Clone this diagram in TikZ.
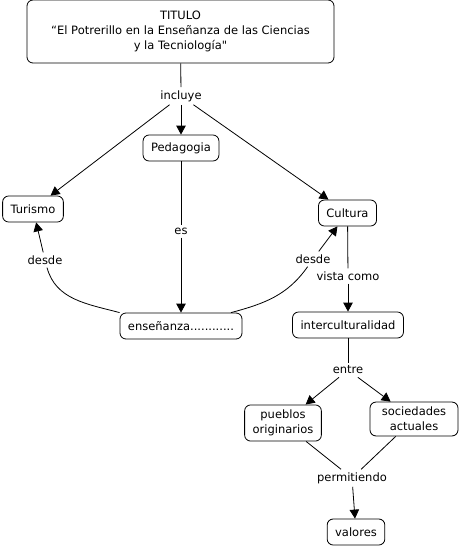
\documentclass[tikz,border=0pt]{standalone}
\usepackage{fontspec}
\setmainfont{DejaVu Sans}[Ligatures=TeXOff]
\usepackage{tikz}
\usetikzlibrary{arrows.meta,positioning,calc}

\begin{document}
\begin{tikzpicture}[
  x=1pt,y=-1pt,
  font=\fontsize{11.5}{15}\selectfont,
  concept/.style={draw,rounded corners=6pt,line width=0.8pt,align=center,fill=white,
    minimum height=26pt,inner xsep=8pt,inner ysep=5pt},
  linkword/.style={fill=white,inner sep=3pt},
  link/.style={line width=0.8pt},
  flow/.style={-{Triangle[length=9pt,width=9.5pt]},line width=0.8pt}
]
  \useasboundingbox (0,0) rectangle (459,547);

  \node[concept,minimum width=307pt,minimum height=63pt] (title) at (180.5,31.5)
    {TITULO\\“El Potrerillo en la Enseñanza de las Ciencias\\y la Tecniología"};
  \node[linkword] (incl) at (181,96) {incluye};
  \node[concept] (pedag) at (181,148) {Pedagogia};
  \node[concept] (turismo) at (33,209) {Turismo};
  \node[concept] (cultura) at (347.5,213) {Cultura};
  \node[linkword] (es) at (181,231) {es};
  \node[linkword] (desdeL) at (45,260) {desde};
  \node[linkword] (desdeR) at (313,259) {desde};
  \node[linkword] (vista) at (348,276) {vista como};
  \node[concept] (ensen) at (181,326) {enseñanza............};
  \node[concept] (intercult) at (348,325) {interculturalidad};
  \node[linkword] (entre) at (348,370) {entre};
  \node[concept] (pueblos) at (283,423) {pueblos\\originarios};
  \node[concept,minimum width=88pt] (sociedades) at (414,419) {sociedades\\actuales};
  \node[linkword] (permit) at (352,478) {permitiendo};
  \node[concept] (valores) at (356,532) {valores};

  \draw[link] (title) -- (incl);
  \draw[flow] (incl) -- (turismo);
  \draw[flow] (incl) -- (pedag);
  \draw[flow] (incl) -- (cultura);
  \draw[link] (pedag) -- (es);
  \draw[flow] (es) -- (ensen);
  \draw[link] (ensen.north west) to[out=165,in=-75] (desdeL);
  \draw[flow] (desdeL) -- (turismo);
  \draw[link] (ensen.15) to[out=15,in=235] (desdeR);
  \draw[flow] (desdeR) -- (cultura);
  \draw[link] (cultura) -- (vista);
  \draw[flow] (vista) -- (intercult);
  \draw[link] (intercult) -- (entre);
  \draw[flow] (entre) -- (pueblos);
  \draw[flow] (entre) -- (sociedades);
  \draw[link] (pueblos) -- (permit);
  \draw[link] (sociedades) -- (permit);
  \draw[flow] (permit) -- (valores);
\end{tikzpicture}
\end{document}
